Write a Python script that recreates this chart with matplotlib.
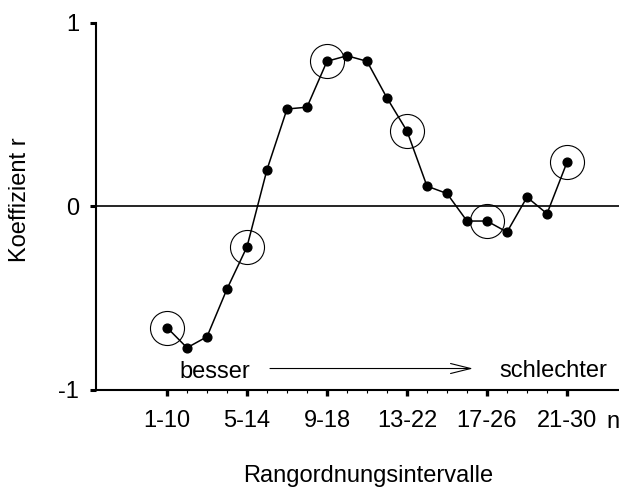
import numpy as np
import matplotlib
matplotlib.use("Agg")
import matplotlib.pyplot as plt
from matplotlib.ticker import FixedLocator

plt.rcParams['font.family'] = ['Liberation Sans', 'DejaVu Sans']

# start rank of each moving interval (1-10, 2-11, ..., 21-30)
start_rank = list(range(1, 22))
# correlation coefficient r per interval
koeff_r = [-0.66, -0.77, -0.71, -0.45, -0.22, 0.20, 0.53, 0.54, 0.79, 0.82,
           0.79, 0.59, 0.41, 0.11, 0.07, -0.08, -0.08, -0.14, 0.05, -0.04, 0.24]
# labelled (and circled) intervals
major_ranks = [1, 5, 9, 13, 17, 21]
major_labels = ['1-10', '5-14', '9-18', '13-22', '17-26', '21-30']

fs = 17
fig = plt.figure(figsize=(6.19, 4.88), dpi=100)
ax = fig.add_axes([96 / 619, 98 / 488, 523 / 619, 367.3 / 488])

ax.plot(start_rank, koeff_r, color='black', lw=1.1, marker='o', ms=6.3, mfc='black', mec='black', zorder=3)

circ_y = [koeff_r[start_rank.index(k)] for k in major_ranks]
ax.plot(major_ranks, circ_y, ls='none', marker='o', ms=24.5, mfc='none', mec='black', mew=0.8, zorder=2)

ax.axhline(0, color='black', lw=1.2, zorder=1)

ax.set_xlim(-2.55, 23.6)
ax.set_ylim(-1, 1)

# axes frame: only left and bottom
for s in ('top', 'right'):
    ax.spines[s].set_visible(False)
ax.spines['left'].set_linewidth(1.5)
ax.spines['bottom'].set_linewidth(1.5)

ax.set_yticks([-1, 0, 1])
ax.set_yticklabels(['-1', '0', '1'], fontsize=fs)
ax.tick_params(axis='y', direction='out', length=4, width=2.2, pad=8)

ax.set_xticks(major_ranks)
ax.set_xticklabels(major_labels, fontsize=fs)
ax.xaxis.set_minor_locator(FixedLocator([k for k in start_rank if k not in major_ranks]))
ax.tick_params(axis='x', which='major', direction='out', length=4.5, width=2.4, pad=10)
ax.tick_params(axis='x', which='minor', direction='out', length=2.5, width=0.8)

ax.text(23.3, -(422 - 390) / 367.3, 'n', transform=ax.get_xaxis_transform(),
        ha='center', va='center', fontsize=fs, clip_on=False)

ax.set_xlabel('Rangordnungsintervalle', fontsize=fs, va='center')
ax.xaxis.set_label_coords((368 - 96) / 523, -(476 - 390) / 367.3)
ax.set_ylabel('Koeffizient r', fontsize=fs, va='center')
ax.yaxis.set_label_coords((20 - 96) / 523, (390 - 199.5) / 367.3)

# direction of ranking
ax.text(3.4, -0.90, 'besser', ha='center', va='center', fontsize=fs)
ax.text(20.3, -0.895, 'schlechter', ha='center', va='center', fontsize=fs)
ax.annotate('', xy=(16.3, -0.883), xytext=(6.15, -0.883),
            arrowprops=dict(arrowstyle='->,head_length=1.45,head_width=0.36',
                            lw=0.8, color='black', shrinkA=0, shrinkB=0,
                            mutation_scale=10))

fig.savefig('out.png', dpi=100)
